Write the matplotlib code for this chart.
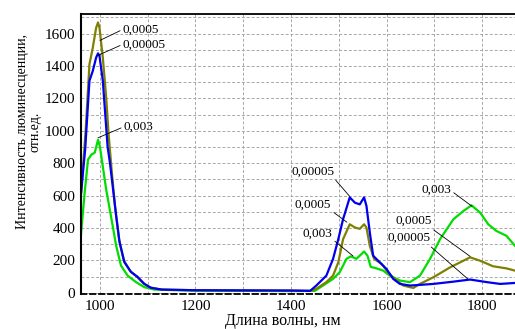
import numpy as np
import matplotlib.pyplot as plt
from matplotlib.ticker import MultipleLocator

plt.rcParams['font.family'] = ['Liberation Serif', 'DejaVu Serif']

# concentration 0,00005 (blue)
wl_blue = [960, 965, 969, 978, 985, 992, 996, 999, 1006, 1011, 1016, 1021, 1027, 1034, 1041,
           1051, 1065, 1079, 1093, 1107, 1130, 1200, 1300, 1400, 1440, 1453, 1474, 1488, 1499,
           1509, 1523, 1534, 1544, 1553, 1558, 1565, 1572, 1586, 1600, 1614, 1628, 1649, 1670,
           1698, 1740, 1775, 1810, 1838, 1869]
int_blue = [600, 760, 883, 1309, 1370, 1452, 1478, 1462, 1309, 1104, 902, 800, 650, 474, 313,
            190, 129, 98, 55, 31, 20, 16, 15, 14, 12, 45, 106, 209, 331,
            454, 589, 556, 546, 589, 536, 372, 229, 188, 147, 86, 55, 45, 49,
            55, 69, 82, 66, 55, 61]

# concentration 0,0005 (olive)
wl_olive = [960, 965, 970, 978, 985, 992, 996, 999, 1006, 1013, 1018, 1025, 1032, 1040, 1050,
            1063, 1077, 1091, 1105, 1128, 1200, 1300, 1400, 1440, 1453, 1474, 1488, 1499, 1509,
            1523, 1534, 1544, 1553, 1558, 1565, 1574, 1590, 1603, 1617, 1635, 1656, 1670, 1698,
            1733, 1775, 1796, 1823, 1851, 1869]
int_olive = [600, 800, 1000, 1411, 1513, 1636, 1669, 1636, 1452, 1207, 982, 740, 520, 330, 200,
             135, 100, 58, 33, 20, 16, 15, 14, 12, 25, 66, 106, 188, 331,
             423, 403, 395, 423, 403, 290, 209, 178, 127, 86, 45, 30, 55, 96,
             157, 219, 198, 164, 151, 137]

# concentration 0,003 (green)
wl_green = [960, 968, 975, 982, 989, 996, 1000, 1006, 1013, 1023, 1034, 1044, 1058, 1076, 1093,
            1114, 1200, 1300, 1400, 1450, 1467, 1488, 1502, 1516, 1525, 1537, 1546, 1553, 1560,
            1567, 1579, 1593, 1607, 1628, 1649, 1670, 1691, 1712, 1740, 1761, 1778, 1796, 1813,
            1830, 1851, 1869]
int_green = [352, 619, 822, 853, 865, 945, 900, 779, 638, 474, 290, 168, 106, 65, 35,
             20, 13, 12, 11, 12, 45, 86, 127, 209, 225, 210, 235, 255, 230,
             160, 151, 137, 106, 76, 66, 106, 209, 331, 454, 505, 540, 495, 423,
             382, 352, 290]

fig = plt.figure(figsize=(5.15, 3.29), dpi=100)
ax = fig.add_axes([0.157, 0.106, 0.843, 0.851])

ax.plot(wl_green, int_green, color='#00dd00', lw=1.6)
ax.plot(wl_olive, int_olive, color='#808000', lw=1.6)
ax.plot(wl_blue, int_blue, color='#0000ee', lw=1.6)

ax.set_xlim(960, 1869)
ax.set_ylim(-8, 1720)
ax.xaxis.set_major_locator(MultipleLocator(200))
ax.xaxis.set_minor_locator(MultipleLocator(100))
ax.yaxis.set_major_locator(MultipleLocator(200))
ax.yaxis.set_minor_locator(MultipleLocator(100))
ax.grid(True, which='both', color='#a8a8a8', linestyle=(0, (3, 2)), lw=0.7)
ax.set_axisbelow(True)
ax.tick_params(which='both', length=0, labelsize=11, pad=4)

ax.spines['right'].set_visible(False)
ax.spines['top'].set_linewidth(1.3)
ax.spines['left'].set_linewidth(1.5)
ax.spines['bottom'].set_linestyle((0, (3, 2)))
ax.spines['bottom'].set_linewidth(1.3)

ax.set_xlabel('Длина волны, нм', fontsize=11.5)
ax.xaxis.set_label_coords(0.465, -0.068)
ax.set_ylabel('Интенсивность люминесценции,\nотн.ед.', fontsize=10, linespacing=1.0)
ax.yaxis.set_label_coords(-0.09, 0.58)

labels = [
    ('0,0005', (1000, 1558), (1048, 1626), 'left', 'center', (0, 0.5)),
    ('0,00005', (996, 1466), (1048, 1534), 'left', 'center', (0, 0.5)),
    ('0,003', (996, 957), (1050, 1025), 'left', 'center', (0, 0.5)),
    ('0,00005', (1523, 595), (1491, 712), 'right', 'bottom', (0.95, 0.1)),
    ('0,0005', (1517, 436), (1484, 509), 'right', 'bottom', (0.95, 0.1)),
    ('0,003', (1530, 227), (1486, 325), 'right', 'bottom', (0.95, 0.2)),
    ('0,003', (1779, 534), (1735, 638), 'right', 'center', (1, 0.4)),
    ('0,0005', (1775, 225), (1695, 405), 'right', 'bottom', (0.9, 0.1)),
    ('0,00005', (1770, 86), (1693, 300), 'right', 'bottom', (0.9, 0.1)),
]
for txt, xy, xytext, ha, va, rp in labels:
    ax.annotate(txt, xy=xy, xytext=xytext, ha=ha, va=va, fontsize=9.5,
                arrowprops=dict(arrowstyle='-', color='black', lw=0.6,
                                relpos=rp, shrinkA=0, shrinkB=0))

fig.savefig('out.png', dpi=100)
